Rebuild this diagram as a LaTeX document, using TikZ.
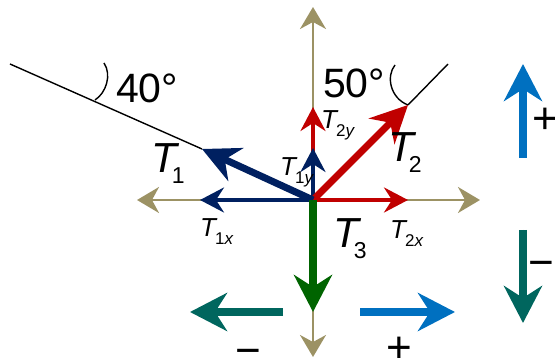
\documentclass[tikz,border=0pt]{standalone}
\usepackage{fontspec}
\setmainfont{Liberation Sans}
\usetikzlibrary{arrows.meta}
\definecolor{navy}{RGB}{0,32,96}
\definecolor{dred}{RGB}{192,0,0}
\definecolor{dgreen}{RGB}{0,100,0}
\definecolor{tealc}{RGB}{0,102,94}
\definecolor{bluec}{RGB}{0,112,192}
\definecolor{tanc}{RGB}{156,146,100}
\newcommand{\bigT}[1]{{\fontsize{42}{42}\selectfont\itshape T}\kern-5pt\raisebox{-11pt}{\fontsize{23}{23}\selectfont #1}}
\newcommand{\smT}[2]{{\fontsize{26}{26}\selectfont\itshape T}\kern-1pt\raisebox{-8pt}{\fontsize{17}{17}\selectfont #1\textit{#2}}}
\begin{document}
\begin{tikzpicture}[x=1pt,y=-1pt,
  axisline/.style={draw=tanc, line width=2pt, {Stealth[length=22pt,width=26pt,inset=7pt]}-{Stealth[length=22pt,width=26pt,inset=7pt]}},
  thinvec/.style={line width=3.5pt, -{Stealth[length=24pt,width=25pt,inset=8pt]}},
  thickvec/.style={line width=7pt, -{Stealth[length=37pt,width=36pt,inset=12pt]}},
  signvec/.style={line width=8pt, -{Stealth[length=37pt,width=38pt,inset=12pt]}},
  rope/.style={draw=black, line width=1.4pt},
  lab/.style={inner sep=0pt, anchor=base west},
  sgn/.style={inner sep=0pt, anchor=base, font=\fontsize{44}{44}\selectfont}]
\useasboundingbox (0,0) rectangle (555,358);
% coordinates
\coordinate (O) at (313,200);
\coordinate (axL) at (137,200);
\coordinate (axR) at (480,200);
\coordinate (axT) at (313,7);
\coordinate (axB) at (313,357);
\coordinate (t1) at (202,149);
\coordinate (t1x) at (200,200);
\coordinate (t1y) at (313,148);
\coordinate (t2) at (408,105);
\coordinate (t2x) at (408,200);
\coordinate (t2y) at (313,107);
\coordinate (t3) at (313,312);
\coordinate (r1) at (10,64);
\coordinate (r2) at (448,64);
\coordinate (bl1) at (283,312);
\coordinate (bl2) at (190,312);
\coordinate (br1) at (360,312);
\coordinate (br2) at (455,312);
\coordinate (ru1) at (523,158);
\coordinate (ru2) at (523,64);
\coordinate (rd1) at (523,230);
\coordinate (rd2) at (523,323);
% ropes and angle arcs
\draw[rope] (r1) -- (t1);
\draw[rope] (t2) -- (r2);
\draw[rope] (95,100) .. controls (106,93) and (112,75) .. (104,63);
\draw[rope] (395,65) .. controls (386,76) and (390,98) .. (408,105);
% axes
\draw[axisline] (axL) -- (axR);
\draw[axisline] (axT) -- (axB);
% components
\draw[thinvec, draw=dred, fill=dred] (O) -- (t2y);
\draw[thinvec, draw=dred, fill=dred] (O) -- (t2x);
\draw[thinvec, draw=navy, fill=navy] (O) -- (t1y);
\draw[thinvec, draw=navy, fill=navy] (O) -- (t1x);
% main vectors
\draw[thickvec, draw=dred, fill=dred] (O) -- (t2);
\draw[thickvec, draw=navy, fill=navy] (O) -- (t1);
\draw[signvec, draw=dgreen, fill=dgreen] (O) -- (t3);
% sign arrows
\draw[signvec, draw=tealc, fill=tealc] (bl1) -- (bl2);
\draw[signvec, draw=bluec, fill=bluec] (br1) -- (br2);
\draw[signvec, draw=bluec, fill=bluec] (ru1) -- (ru2);
\draw[signvec, draw=tealc, fill=tealc] (rd1) -- (rd2);
% labels
\node[lab, font=\fontsize{41}{41}\selectfont] (a40) at (116,103) {40°};
\node[lab, font=\fontsize{41}{41}\selectfont] (a50) at (323,98) {50°};
\node[lab] (T1) at (151,173) {\bigT{1}};
\node[lab] (T2) at (388,162) {\bigT{2}};
\node[lab] (T3) at (333,248) {\bigT{3}};
\node[lab] (T1y) at (280,176) {\smT{1}{y}};
\node[lab] (T2y) at (321,129) {\smT{2}{y}};
\node[lab] (T1x) at (200,237) {\smT{1}{x}};
\node[lab] (T2x) at (390,239) {\smT{2}{x}};
\node[sgn] (pb) at (399,363) {+};
\node[sgn] (pr) at (545,133.5) {+};
\node[sgn] (mb) at (248,365.5) {−};
\node[sgn] (mr) at (541.5,277.5) {−};
\end{tikzpicture}
\end{document}
